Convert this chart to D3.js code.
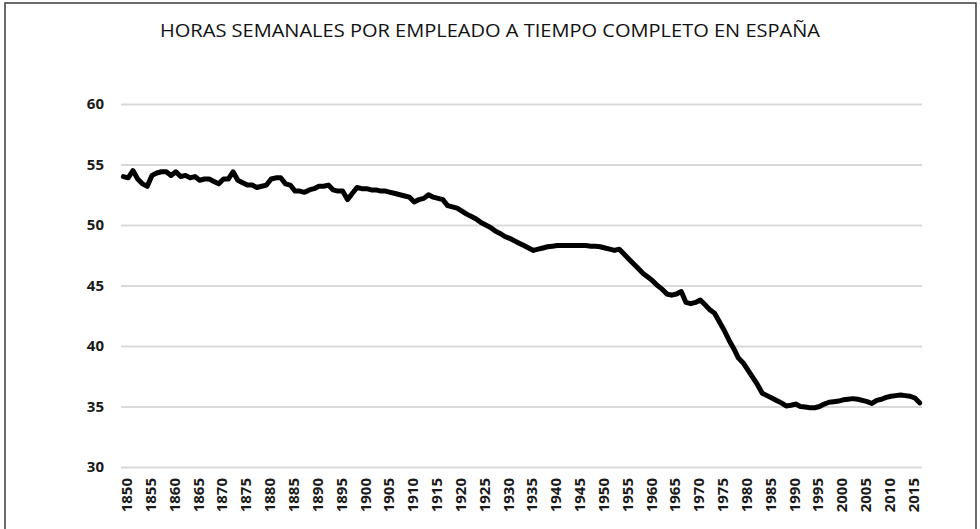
<!DOCTYPE html>
<html>
<head>
<meta charset="utf-8">
<script src="https://cdn.jsdelivr.net/npm/d3@7"></script>
<style>
  html, body { margin: 0; padding: 0; background: #fff; }
  svg { display: block; }
</style>
</head>
<body>
<svg id="chart" width="980" height="529"></svg>
<script>
const title = "HORAS SEMANALES POR EMPLEADO A TIEMPO COMPLETO EN ESPAÑA";

const firstYear = 1850;
// weekly hours per full-time employee, one value per year 1850..2017
const hours = [
  54.0, 53.9, 54.5, 53.8, 53.4, 53.2, 54.1, 54.3, 54.4, 54.4, // 1850
  54.1, 54.4, 54.0, 54.1, 53.9, 54.0, 53.7, 53.8, 53.8, 53.6, // 1860
  53.4, 53.8, 53.8, 54.4, 53.7, 53.5, 53.3, 53.3, 53.1, 53.2, // 1870
  53.3, 53.8, 53.9, 53.9, 53.4, 53.3, 52.8, 52.8, 52.7, 52.9, // 1880
  53.0, 53.2, 53.2, 53.3, 52.9, 52.8, 52.8, 52.1, 52.6, 53.1, // 1890
  53.0, 53.0, 52.9, 52.9, 52.8, 52.8, 52.7, 52.6, 52.5, 52.4, // 1900
  52.3, 51.9, 52.1, 52.2, 52.5, 52.3, 52.2, 52.1, 51.6, 51.5, // 1910
  51.4, 51.15, 50.9, 50.7, 50.5, 50.2, 50.0, 49.8, 49.5, 49.3, // 1920
  49.05, 48.9, 48.7, 48.5, 48.3, 48.1, 47.9, 48.0, 48.1, 48.2, // 1930
  48.25, 48.3, 48.3, 48.3, 48.3, 48.3, 48.3, 48.3, 48.25, 48.25, // 1940
  48.2, 48.1, 48.0, 47.9, 48.0, 47.6, 47.2, 46.8, 46.4, 46.0, // 1950
  45.7, 45.4, 45.0, 44.7, 44.3, 44.2, 44.3, 44.5, 43.6, 43.5, // 1960
  43.6, 43.8, 43.4, 43.0, 42.7, 42.0, 41.3, 40.5, 39.8, 39.0, // 1970
  38.6, 38.0, 37.4, 36.8, 36.1, 35.9, 35.7, 35.5, 35.3, 35.05, // 1980
  35.1, 35.2, 35.0, 34.95, 34.9, 34.9, 35.0, 35.2, 35.35, 35.4, // 1990
  35.45, 35.55, 35.6, 35.65, 35.6, 35.5, 35.4, 35.25, 35.5, 35.6, // 2000
  35.75, 35.85, 35.9, 35.95, 35.9, 35.85, 35.7, 35.3              // 2010
];
const years = hours.map((_, i) => firstYear + i);
const yTicks = [30, 35, 40, 45, 50, 55, 60];
const xTickYears = years.filter(y => (y - firstYear) % 5 === 0);

const svg = d3.select("#chart");
const margin = { left: 121, right: 58, top: 104, bottom: 62 };
const width = 980, height = 529;
const font = "Open Sans, sans-serif";

// outer frame
svg.append("rect")
  .attr("x", 5).attr("y", 3)
  .attr("width", 971).attr("height", 540)
  .attr("fill", "none")
  .attr("stroke", "#3a3a3a")
  .attr("stroke-width", 1.5);

svg.append("text")
  .attr("x", 490).attr("y", 37)
  .attr("text-anchor", "middle")
  .attr("font-family", font)
  .attr("font-size", 19)
  .attr("textLength", 660)
  .attr("lengthAdjust", "spacingAndGlyphs")
  .attr("fill", "#111")
  .text(title);

const x = d3.scalePoint()
  .domain(years)
  .range([margin.left, width - margin.right])
  .padding(0.5);

const y = d3.scaleLinear()
  .domain([30, 60])
  .range([height - margin.bottom, margin.top]);

// y axis with gridlines
svg.append("g")
  .attr("transform", `translate(${margin.left},0)`)
  .call(d3.axisLeft(y).tickValues(yTicks).tickSize(0).tickPadding(17))
  .call(g => g.select(".domain").remove())
  .call(g => g.selectAll(".tick line")
    .attr("x2", width - margin.left - margin.right)
    .attr("stroke", "#d9d9d9")
    .attr("stroke-width", 2))
  .call(g => g.selectAll(".tick text")
    .attr("font-family", font)
    .attr("font-size", 15)
    .attr("font-weight", 700)
    .attr("fill", "#1a1a1a"));

// x axis, rotated year labels
svg.append("g")
  .attr("transform", `translate(0,${y(30)})`)
  .call(d3.axisBottom(x).tickValues(xTickYears).tickSize(0))
  .call(g => g.select(".domain").remove())
  .call(g => g.selectAll(".tick text")
    .attr("font-family", font)
    .attr("font-size", 15)
    .attr("font-weight", 700)
    .attr("fill", "#1a1a1a")
    .attr("text-anchor", "end")
    .attr("transform", "rotate(-90)")
    .attr("x", -11)
    .attr("y", 3)
    .attr("dy", "0.35em"));

const line = d3.line()
  .x((d, i) => x(years[i]))
  .y(d => y(d));

svg.append("path")
  .datum(hours)
  .attr("fill", "none")
  .attr("stroke", "#000")
  .attr("stroke-width", 5)
  .attr("stroke-linejoin", "round")
  .attr("stroke-linecap", "round")
  .attr("d", line);
</script>
</body>
</html>
